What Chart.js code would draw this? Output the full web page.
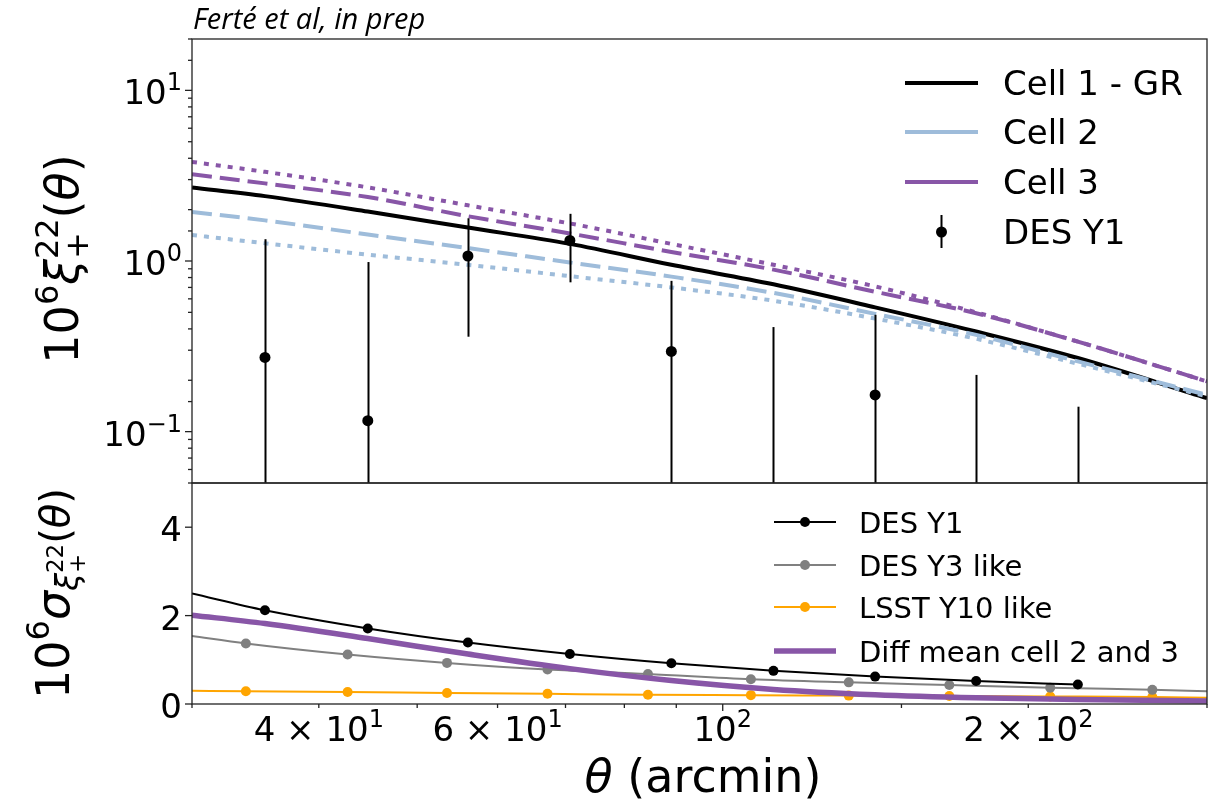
<!DOCTYPE html>
<html>
<head>
<meta charset="utf-8">
<script src="https://cdn.jsdelivr.net/npm/chart.js@4.4.0/dist/chart.umd.min.js"></script>
<style>
html, body { margin: 0; padding: 0; background: #fff; }
#wrap { position: relative; width: 1217px; height: 802px; }
</style>
</head>
<body>
<div id="wrap"><canvas id="chart" width="1217" height="802"></canvas></div>
<script>
// top panel: model curves (theta in arcmin)
const thetaModel = [30, 35.4, 44.7, 56.1, 70.7, 89.0, 112.2, 141.3, 177.7, 223.8, 300];
const xiCell1 = [2.70, 2.40, 1.95, 1.57, 1.26, 0.95, 0.73, 0.535, 0.386, 0.27, 0.157];
const xiCell2Dashed = [1.94, 1.73, 1.43, 1.19, 0.98, 0.81, 0.65, 0.49, 0.369, 0.258, 0.164];
const xiCell2Dotted = [1.42, 1.27, 1.09, 0.95, 0.815, 0.70, 0.585, 0.46, 0.35, 0.25, 0.161];
const xiCell3Dashed = [3.22, 2.85, 2.37, 1.83, 1.45, 1.13, 0.89, 0.66, 0.494, 0.337, 0.197];
const xiCell3Dotted = [3.81, 3.33, 2.70, 2.12, 1.66, 1.26, 0.95, 0.71, 0.50, 0.337, 0.197];

// top panel: DES Y1 measurements
const thetaDES = [35.4, 44.7, 56.1, 70.7, 89.0, 112.2, 141.3, 177.7, 223.8];
const xiDES = [0.272, 0.116, 1.07, 1.32, 0.295, 0.03, 0.164, -0.045, -0.075];
const xiDESErr = [1.07, 0.87, 0.71, 0.57, 0.47, 0.38, 0.32, 0.26, 0.215];

// bottom panel: errors
const sigmaDES = [2.12, 1.71, 1.39, 1.13, 0.92, 0.75, 0.62, 0.52, 0.44];
const sigmaDESEdge = 2.50;
const thetaForecast = [33.9, 42.7, 53.5, 67.2, 84.4, 106.6, 133.1, 167.2, 210.2, 265.0];
const sigmaY3 = [1.37, 1.12, 0.93, 0.78, 0.68, 0.56, 0.49, 0.43, 0.37, 0.32];
const sigmaY3Edges = [1.54, 0.29];
const sigmaLSST = [0.29, 0.27, 0.25, 0.23, 0.21, 0.20, 0.19, 0.18, 0.17, 0.16];
const sigmaLSSTEdges = [0.30, 0.14];
const diffCell23 = [2.01, 1.82, 1.48, 1.13, 0.80, 0.53, 0.33, 0.21, 0.14, 0.10, 0.07];

// tick labels: [mantissa text, superscript]
const xTickLabels = {40: ['4 × 10', '1'], 60: ['6 × 10', '1'], 100: ['10', '2'], 200: ['2 × 10', '2']};
const yTopTickLabels = {0.1: ['10', '−1'], 1: ['10', '0'], 10: ['10', '1']};
const yBotTickLabels = {0: ['0', ''], 2: ['2', ''], 4: ['4', '']};

const topLegend = ['Cell 1 - GR', 'Cell 2', 'Cell 3', 'DES Y1'];
const botLegend = ['DES Y1', 'DES Y3 like', 'LSST Y10 like', 'Diff mean cell 2 and 3'];

const PURPLE = '#8856a7';
const BLUE = '#9ebcda';
const FONT = '"DejaVu Sans"';
const TICK_SIZE = 34;

function pts(xs, ys) {
    return xs.map((x, i) => ({x: x, y: ys[i], m: true}));
}

function withEdges(xs, ys, edges) {
    const d = pts(xs, ys);
    d.unshift({x: thetaModel[0], y: edges[0], m: false});
    if (edges.length > 1) d.push({x: thetaModel[thetaModel.length - 1], y: edges[1], m: false});
    return d;
}

function lookup(table, v) {
    for (const k of Object.keys(table)) {
        const key = parseFloat(k);
        if (Math.abs(v - key) < 1e-6 * Math.max(1, Math.abs(key))) return table[k];
    }
    return null;
}

function isPow10(v) {
    const l = Math.log10(v);
    return Math.abs(l - Math.round(l)) < 1e-6;
}

function layoutRuns(ctx, runs) {
    let x = 0, prevStart = 0, prevEnd = 0;
    const out = [];
    runs.forEach(r => {
        ctx.font = (r.it ? 'italic ' : '') + r.size + 'px ' + FONT;
        const w = ctx.measureText(r.t).width;
        const start = r.back ? prevStart : x;
        out.push({r: r, start: start});
        const end = start + w;
        x = r.back ? Math.max(prevEnd, end) : end;
        prevStart = start;
        prevEnd = end;
    });
    return {out: out, width: x};
}

// align: 'center' or 'right' relative to (cx, cy) along the text direction
function drawRuns(ctx, runs, cx, cy, rotate, align) {
    const lay = layoutRuns(ctx, runs);
    const x0 = align === 'right' ? -lay.width : -lay.width / 2;
    ctx.save();
    ctx.translate(cx, cy);
    if (rotate) ctx.rotate(-Math.PI / 2);
    ctx.fillStyle = '#000';
    ctx.textBaseline = 'alphabetic';
    ctx.textAlign = 'left';
    lay.out.forEach(o => {
        ctx.font = (o.r.it ? 'italic ' : '') + o.r.size + 'px ' + FONT;
        ctx.fillText(o.r.t, x0 + o.start, o.r.dy || 0);
    });
    ctx.restore();
}

function tickRuns(label) {
    const runs = [{t: label[0], size: TICK_SIZE}];
    if (label[1]) runs.push({t: label[1], size: 24, dy: -14});
    return runs;
}

function drawErrorBars(chart, ds, scale) {
    const ctx = chart.ctx;
    const xs = chart.scales.x;
    ctx.save();
    ctx.strokeStyle = '#000';
    ctx.lineWidth = 2;
    ds.data.forEach((p, i) => {
        const e = ds.errors[i];
        const px = Math.round(xs.getPixelForValue(p.x)) + 0.5;
        const hi = scale.getPixelForValue(p.y + e);
        const lo = p.y - e > 0 ? scale.getPixelForValue(p.y - e) : scale.bottom + 2;
        ctx.beginPath();
        ctx.moveTo(px, hi);
        ctx.lineTo(px, lo);
        ctx.stroke();
    });
    ctx.restore();
}

function drawTicks(chart) {
    const ctx = chart.ctx;
    const area = chart.chartArea;
    const xs = chart.scales.x;
    ctx.save();
    ctx.strokeStyle = '#222';
    ctx.lineWidth = 1.3;
    xs.ticks.forEach(t => {
        const px = xs.getPixelForValue(t.value);
        const len = isPow10(t.value) ? 7 : 4;
        ctx.beginPath();
        ctx.moveTo(px, area.bottom);
        ctx.lineTo(px, area.bottom + len);
        ctx.stroke();
        const label = lookup(xTickLabels, t.value);
        if (label) drawRuns(ctx, tickRuns(label), px, area.bottom + 37, false, 'center');
    });
    [['yTop', yTopTickLabels], ['yBot', yBotTickLabels]].forEach(([id, table]) => {
        const s = chart.scales[id];
        s.ticks.forEach(t => {
            const py = s.getPixelForValue(t.value);
            if (py < s.top - 0.5 || py > s.bottom + 0.5) return;
            const len = id === 'yBot' || isPow10(t.value) ? 7 : 4;
            ctx.beginPath();
            ctx.moveTo(area.left - len, py);
            ctx.lineTo(area.left, py);
            ctx.stroke();
            const label = lookup(table, t.value);
            if (label) {
                drawRuns(ctx, tickRuns(label), area.left - 10, py + 14, false, 'right');
            }
        });
    });
    ctx.restore();
}

function drawFrames(chart) {
    const ctx = chart.ctx;
    const area = chart.chartArea;
    ctx.save();
    ctx.strokeStyle = '#222';
    ctx.lineWidth = 1.3;
    ['yTop', 'yBot'].forEach(id => {
        const s = chart.scales[id];
        ctx.strokeRect(area.left, s.top, area.right - area.left, s.bottom - s.top);
    });
    ctx.restore();
}

function drawLegends(chart) {
    const ctx = chart.ctx;
    ctx.save();
    ctx.textAlign = 'left';
    ctx.textBaseline = 'alphabetic';
    ctx.fillStyle = '#000';

    // top legend
    const topColors = ['#000', BLUE, PURPLE];
    const topRows = [83, 132, 182, 232];
    ctx.font = '34px ' + FONT;
    topLegend.forEach((label, i) => {
        const y = topRows[i];
        if (i < 3) {
            ctx.strokeStyle = topColors[i];
            ctx.lineWidth = 4;
            ctx.beginPath();
            ctx.moveTo(905, y);
            ctx.lineTo(978, y);
            ctx.stroke();
        } else {
            ctx.strokeStyle = '#000';
            ctx.lineWidth = 2;
            ctx.beginPath();
            ctx.moveTo(941.5, y - 17);
            ctx.lineTo(941.5, y + 16);
            ctx.stroke();
            ctx.beginPath();
            ctx.arc(941.5, y, 5.5, 0, Math.PI * 2);
            ctx.fill();
        }
        ctx.fillText(label, 1003, y + 0.365 * 34);
    });

    // bottom legend
    const botColors = ['#000', '#808080', '#ffa500', PURPLE];
    const botRows = [522, 565, 607, 651];
    ctx.font = '29px ' + FONT;
    botLegend.forEach((label, i) => {
        const y = botRows[i];
        ctx.strokeStyle = botColors[i];
        ctx.fillStyle = botColors[i];
        ctx.lineWidth = i === 3 ? 5.5 : 2;
        ctx.beginPath();
        ctx.moveTo(774, y);
        ctx.lineTo(836, y);
        ctx.stroke();
        if (i < 3) {
            ctx.beginPath();
            ctx.arc(805, y, 5, 0, Math.PI * 2);
            ctx.fill();
        }
        ctx.fillStyle = '#000';
        ctx.fillText(label, 859, y + 0.365 * 29);
    });
    ctx.restore();
}

function drawTitles(chart) {
    const ctx = chart.ctx;
    const yTop = chart.scales.yTop;
    const yBot = chart.scales.yBot;
    drawRuns(ctx, [
        {t: '10', size: 46},
        {t: '6', size: 32, dy: -20},
        {t: 'ξ', size: 46, it: true},
        {t: '22', size: 32, dy: -20},
        {t: '+', size: 32, dy: 10, back: true},
        {t: '(', size: 46},
        {t: 'θ', size: 46, it: true},
        {t: ')', size: 46}
    ], 78, (yTop.top + yTop.bottom) / 2 - 2, true, 'center');

    drawRuns(ctx, [
        {t: '10', size: 46},
        {t: '6', size: 32, dy: -20},
        {t: 'σ', size: 46, it: true},
        {t: 'ξ', size: 32, it: true, dy: 9},
        {t: '22', size: 23, dy: -6},
        {t: '+', size: 23, dy: 16, back: true},
        {t: '(', size: 40},
        {t: 'θ', size: 40, it: true},
        {t: ')', size: 40}
    ], 69, (yBot.top + yBot.bottom) / 2, true, 'center');

    drawRuns(ctx, [
        {t: 'θ', size: 46, it: true},
        {t: ' (arcmin)', size: 46}
    ], 703, 792, false, 'center');

    ctx.save();
    ctx.fillStyle = '#000';
    ctx.font = 'italic 29px "Open Sans"';
    ctx.textBaseline = 'alphabetic';
    ctx.fillText('Ferté et al, in prep', 193, 29);
    ctx.restore();
}

const panelsPlugin = {
    id: 'panels',
    beforeDatasetDraw(chart, args) {
        const ds = chart.data.datasets[args.index];
        const s = chart.scales[ds.yAxisID];
        const ctx = chart.ctx;
        ctx.save();
        ctx.beginPath();
        ctx.rect(chart.chartArea.left, s.top, chart.chartArea.right - chart.chartArea.left, s.bottom - s.top);
        ctx.clip();
        if (ds.errors) drawErrorBars(chart, ds, s);
    },
    afterDatasetDraw(chart) {
        chart.ctx.restore();
    },
    afterDatasetsDraw(chart) {
        drawFrames(chart);
        drawTicks(chart);
    },
    afterDraw(chart) {
        drawLegends(chart);
        drawTitles(chart);
    }
};

const markerRadius = r => ctx => (ctx.raw && ctx.raw.m ? r : 0);

const modelLine = (ys, color, dash) => ({
    data: pts(thetaModel, ys),
    yAxisID: 'yTop',
    borderColor: color,
    borderWidth: 4,
    borderDash: dash,
    pointRadius: 0,
    fill: false,
    cubicInterpolationMode: 'monotone'
});

const hiddenTicks = {display: false};

new Chart(document.getElementById('chart'), {
    type: 'line',
    data: {
        datasets: [
            {
                data: pts(thetaDES, xiDES),
                errors: xiDESErr,
                yAxisID: 'yTop',
                showLine: false,
                pointRadius: 5.5,
                pointBorderWidth: 0,
                pointBackgroundColor: '#000',
                borderColor: '#000'
            },
            modelLine(xiCell3Dotted, PURPLE, [5, 7]),
            modelLine(xiCell3Dashed, PURPLE, [20, 8]),
            modelLine(xiCell2Dotted, BLUE, [5, 7]),
            modelLine(xiCell2Dashed, BLUE, [20, 8]),
            modelLine(xiCell1, '#000', []),
            {
                data: withEdges(thetaDES, sigmaDES, [sigmaDESEdge]),
                yAxisID: 'yBot',
                borderColor: '#000',
                borderWidth: 2,
                pointRadius: markerRadius(5),
                pointBorderWidth: 0,
                pointBackgroundColor: '#000',
                cubicInterpolationMode: 'monotone'
            },
            {
                data: pts(thetaModel, diffCell23),
                yAxisID: 'yBot',
                borderColor: PURPLE,
                borderWidth: 5.5,
                pointRadius: 0,
                cubicInterpolationMode: 'monotone'
            },
            {
                data: withEdges(thetaForecast, sigmaY3, sigmaY3Edges),
                yAxisID: 'yBot',
                borderColor: '#808080',
                borderWidth: 2,
                pointRadius: markerRadius(5),
                pointBorderWidth: 0,
                pointBackgroundColor: '#808080',
                cubicInterpolationMode: 'monotone'
            },
            {
                data: withEdges(thetaForecast, sigmaLSST, sigmaLSSTEdges),
                yAxisID: 'yBot',
                borderColor: '#ffa500',
                borderWidth: 2,
                pointRadius: markerRadius(5),
                pointBorderWidth: 0,
                pointBackgroundColor: '#ffa500',
                cubicInterpolationMode: 'monotone'
            }
        ]
    },
    options: {
        responsive: false,
        animation: false,
        devicePixelRatio: 1,
        events: [],
        layout: {padding: {top: 39, right: 10, left: 0, bottom: 0}},
        plugins: {legend: {display: false}, tooltip: {enabled: false}},
        scales: {
            x: {
                type: 'logarithmic',
                min: 30,
                max: 300,
                position: 'bottom',
                grid: {display: false},
                border: {display: false},
                ticks: hiddenTicks,
                afterFit: s => { s.height = 98; }
            },
            yBot: {
                type: 'linear',
                min: 0,
                max: 5,
                position: 'left',
                stack: 'panels',
                stackWeight: 221,
                grid: {display: false},
                border: {display: false},
                ticks: {display: false, stepSize: 2, includeBounds: false},
                afterFit: s => { s.width = 192; }
            },
            yTop: {
                type: 'logarithmic',
                min: 0.05,
                max: 20,
                position: 'left',
                stack: 'panels',
                stackWeight: 444,
                grid: {display: false},
                border: {display: false},
                ticks: hiddenTicks,
                afterFit: s => { s.width = 192; }
            }
        }
    },
    plugins: [panelsPlugin]
});
</script>
</body>
</html>
